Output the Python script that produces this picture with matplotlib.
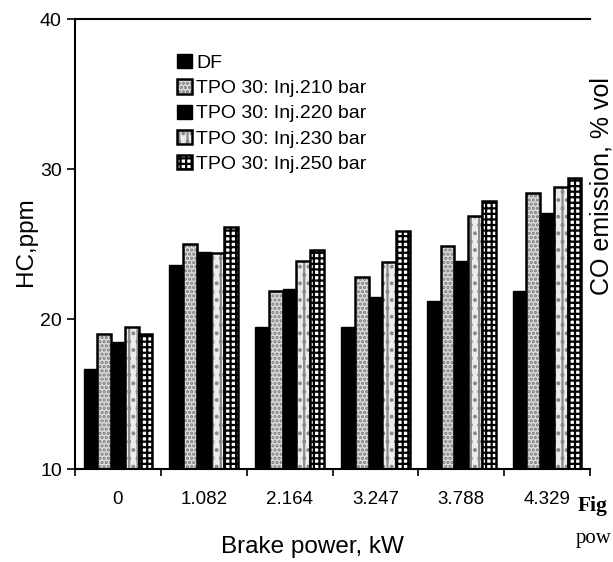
import matplotlib
matplotlib.use("Agg")
import matplotlib.pyplot as plt
import numpy as np
from matplotlib.patches import Patch

# ── Data ──────────────────────────────────────────────────────────────────────
power_labels = ["0", "1.082", "2.164", "3.247", "3.788", "4.329"]
series_names = ["DF", "TPO 30: Inj.210 bar", "TPO 30: Inj.220 bar",
                "TPO 30: Inj.230 bar", "TPO 30: Inj.250 bar"]
hc_df     = [16.7, 23.6, 19.5, 19.5, 21.2, 21.9]
hc_inj210 = [19.0, 25.0, 21.9, 22.8, 24.9, 28.4]
hc_inj220 = [18.5, 24.5, 22.0, 21.5, 23.9, 27.1]
hc_inj230 = [19.5, 24.4, 23.9, 23.8, 26.9, 28.8]
hc_inj250 = [19.0, 26.1, 24.6, 25.9, 27.9, 29.4]
series = [hc_df, hc_inj210, hc_inj220, hc_inj230, hc_inj250]

# fill styles: (facecolor, hatch, hatch colour)
styles = [
    ("black", None, None),
    ("#dcdcdc", "....", "#7a7a7a"),
    ("black", None, None),
    ("#ececec", "||..", "#8a8a8a"),
    ("white", "+++", "black"),
]

plt.rcParams["font.family"] = ["Liberation Sans", "DejaVu Sans"]
plt.rcParams["hatch.linewidth"] = 1.6

W, H = 613, 562
fig = plt.figure(figsize=(W / 100, H / 100), dpi=100)
ax = fig.add_axes([75 / W, 1 - 469 / H, (590 - 75) / W, (469 - 19) / H])

x = np.arange(len(power_labels))
bw = 0.16
handles = []
for k, (vals, (fc, hatch, hc)) in enumerate(zip(series, styles)):
    pos = x + (k - 2) * bw
    if hatch is None:
        ax.bar(pos, np.array(vals) - 10, bw, bottom=10, color=fc,
               edgecolor="black", linewidth=1.0)
        handles.append(Patch(facecolor=fc, edgecolor="black", linewidth=1.0))
    else:
        ax.bar(pos, np.array(vals) - 10, bw, bottom=10, color=fc,
               hatch=hatch, edgecolor=hc, linewidth=0)
        ax.bar(pos, np.array(vals) - 10, bw, bottom=10, fill=False,
               edgecolor="black", linewidth=1.8)
        # tuple handle -> drawn on top of each other in the legend
        handles.append((Patch(facecolor=fc, hatch=hatch, edgecolor=hc, linewidth=0),
                        Patch(fill=False, edgecolor="black", linewidth=1.8)))

ax.set_xlim(-0.5, 5.5)
ax.set_ylim(10, 40)
ax.set_yticks([10, 20, 30, 40])
ax.set_xticks(x)
ax.set_xticklabels(power_labels)
ax.set_xticks(np.arange(-0.5, 5.6, 1.0), minor=True)
ax.tick_params(axis="x", which="major", length=0, pad=16, labelsize=13.5)
ax.tick_params(axis="x", which="minor", length=5, width=1.2, direction="out")
ax.tick_params(axis="y", length=6, width=1.2, direction="out", labelsize=14)
ax.spines["right"].set_visible(False)
for s in ("left", "bottom", "top"):
    ax.spines[s].set_linewidth(1.5)

ax.set_xlabel("Brake power, kW", fontsize=17.5)
ax.xaxis.set_label_coords((312 - 75) / 515, (469 - 536) / 450)
ax.set_ylabel("HC,ppm", fontsize=17.5)
ax.yaxis.set_label_coords((37 - 75) / 515, (469 - 242) / 450)

ax.legend(handles, series_names,
          loc="upper left", bbox_to_anchor=(177 / W, 1 - 54 / H),
          bbox_transform=fig.transFigure, frameon=False, fontsize=14,
          handlelength=0.78, handleheight=0.75, handletextpad=0.2,
          labelspacing=0.38, borderpad=0, borderaxespad=0)

# fragments of the neighbouring figure on the scanned page
fig.text(601 / W, 1 - 186 / H, "CO emission, % vol", rotation=90,
         ha="center", va="center", fontsize=18)
fig.text(578 / W, 1 - 506 / H, "Fig", fontsize=15.5, fontweight="bold",
         family="Liberation Serif", va="center")
fig.text(576 / W, 1 - 539 / H, "pow", fontsize=15,
         family="Liberation Serif", va="center")

fig.savefig("out.png", dpi=100)
